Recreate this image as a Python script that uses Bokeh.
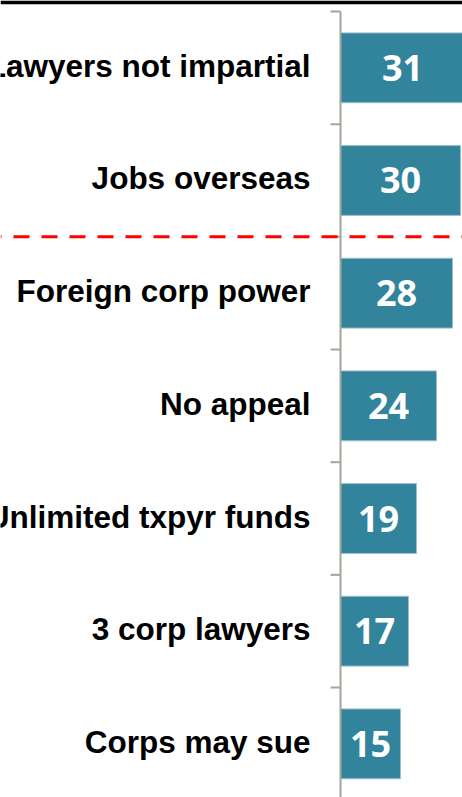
import math
from bokeh.plotting import figure
from bokeh.models import Range1d, Span, ColumnDataSource
from bokeh.core.properties import value
from bokeh.embed import file_html
from bokeh.resources import INLINE

# ---- data (bottom to top) ----
categories = ["Corps may sue", "3 corp lawyers", "Unlimited txpyr funds",
              "No appeal", "Foreign corp power", "Jobs overseas",
              "Lawyers not impartial"]
values = [15, 17, 19, 24, 28, 30, 31]
separator_after = "Jobs overseas"   # red dashed line drawn under this bar

n = len(categories)
ypos = [i + 0.5 for i in range(n)]
src = ColumnDataSource(dict(
    cat=categories, val=values, y=ypos,
    mid=[v / 2 for v in values], lab=[str(v) for v in values],
    zero=[0] * n,
))

p = figure(width=462, height=797,
           x_range=Range1d(-85, 30.5), y_range=Range1d(0.024, 7.062),
           output_backend="svg", toolbar_location=None,
           x_axis_type=None, y_axis_type=None,
           min_border=0, min_border_top=4, border_fill_color="black",
           outline_line_color=None, background_fill_color="white")

# bars
p.hbar(y="y", left=0, right="val", height=0.62, source=src,
       fill_color="#31849B", line_color="#9CC0CC", line_width=1)

# value labels inside bars
p.text(x="mid", y="y", text="lab", source=src,
       text_align="center", text_baseline="middle", text_color="white",
       text_font=value("Open Sans"), text_font_style="bold",
       text_font_size="36px")

# category labels
p.text(x="zero", y="y", text="cat", source=src, x_offset=-30, y_offset=-2,
       text_align="right", text_baseline="middle", text_color="black",
       text_font=value("Liberation Sans"), text_font_style="bold",
       text_font_size="31.5px")

# axis line and ticks at category boundaries
axis_col = "#A0A898"
p.segment(x0=0, y0=0, x1=0, y1=n, line_color=axis_col, line_width=2)
p.ray(x=[0] * (n + 1), y=list(range(n + 1)), length=10, length_units="screen",
      angle=math.pi, line_color=axis_col, line_width=2)

# separator
p.add_layout(Span(location=categories.index(separator_after), dimension="width",
                  line_color="#FF0000", line_width=3, line_dash="16 12",
                  line_dash_offset=15))

open("out.html", "w").write(file_html(p, INLINE))
